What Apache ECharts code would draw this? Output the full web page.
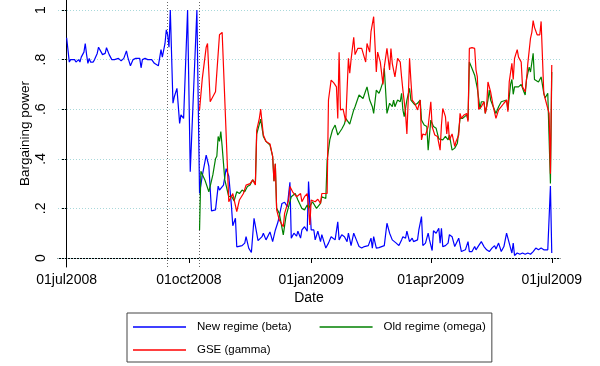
<!DOCTYPE html>
<html><head><meta charset="utf-8">
<script src="https://cdn.jsdelivr.net/npm/echarts@6/dist/echarts.min.js"></script>
<style>html,body{margin:0;padding:0;background:#fff}#c{width:600px;height:366px}</style>
</head><body><div id="c"></div>
<script>
// x values are days since 01jul2008
const xTickDays = [0, 92, 184, 274, 365];
const xTickLabels = ['01jul2008', '01oct2008', '01jan2009', '01apr2009', '01jul2009'];
const yTickValues = [0, 0.2, 0.4, 0.6, 0.8, 1];
const yTickLabels = ['0', '.2', '.4', '.6', '.8', '1'];
const eventDays = [76, 100]; // 15sep2008, 09oct2008
const seriesNames = ['New regime (beta)', 'Old regime (omega)', 'GSE (gamma)'];

// [days since 01jul2008, value]
const beta = [[0,.888],[2,.79],[3,.80],[6,.80],[7,.79],[9,.80],[10,.79],[11,.81],[13,.83],[14,.865],[15,.82],[16,.785],[17,.805],[18,.79],[20,.79],[21,.80],[23,.825],[24,.85],[26,.83],[27,.82],[29,.825],[30,.848],[32,.82],[34,.80],[36,.80],[39,.805],[41,.795],[43,.805],[45,.835],[46,.81],[48,.775],[50,.80],[52,.805],[53,.80],[55,.805],[56,.767],[57,.80],[59,.805],[61,.80],[64,.80],[66,.785],[69,.775],[71,.84],[72,.81],[74,.865],[75,.92],[76,.90],[77,.85],[78,1.0],[80,.624],[81,.65],[83,.684],[85,.543],[86,.577],[88,.563],[91,1.0],[93,.348],[98,1.0],[99,1.0],[100,.26],[102,.33],[105,.415],[107,.37],[109,.19],[112,.194],[113,.187],[114,.29],[115,.274],[118,.294],[120,.36],[122,.33],[124,.21],[125,.13],[127,.16],[128,.045],[132,.05],[134,.06],[135,.086],[137,.04],[139,.022],[141,.16],[144,.07],[147,.086],[148,.1],[150,.073],[153,.105],[155,.066],[157,.112],[159,.145],[162,.22],[164,.225],[166,.207],[168,.305],[169,.08],[171,.1],[173,.088],[174,.108],[176,.08],[177,.113],[179,.126],[181,.108],[182,.308],[184,.113],[186,.113],[187,.073],[189,.108],[191,.066],[192,.094],[195,.04],[197,.06],[199,.086],[202,.073],[204,.146],[205,.073],[207,.094],[209,.086],[211,.066],[212,.1],[214,.05],[216,.1],[218,.073],[220,.046],[222,.04],[224,.046],[227,.05],[229,.08],[230,.04],[231,.086],[233,.04],[235,.042],[237,.046],[239,.05],[241,.14],[243,.1],[245,.073],[246,.08],[248,.06],[250,.05],[252,.073],[253,.086],[255,.08],[256,.108],[258,.066],[260,.08],[261,.066],[264,.073],[265,.113],[267,.167],[268,.05],[270,.06],[272,.1],[273,.073],[275,.03],[276,.11],[278,.1],[280,.12],[281,.06],[282,.12],[283,.046],[285,.05],[287,.06],[288,.094],[290,.086],[292,.046],[293,.04],[295,.08],[297,.026],[300,.033],[302,.066],[303,.026],[305,.026],[307,.046],[308,.033],[310,.05],[312,.066],[314,.046],[316,.033],[318,.026],[320,.04],[322,.05],[323,.036],[325,.06],[327,.026],[329,.046],[331,.1],[334,.04],[335,.02],[336,.06],[337,.01],[339,.02],[341,.015],[343,.02],[345,.015],[347,.02],[349,.015],[351,.026],[353,.04],[355,.033],[357,.04],[359,.033],[360,.04],[362,.033],[364,.29],[365,.02]];

const omega = [[100,.113],[101,.35],[104,.315],[107,.267],[110,.335],[112,.40],[113,.41],[114,.49],[115,.47],[116,.51],[117,.45],[119,.315],[122,.247],[124,.25],[126,.23],[128,.267],[130,.26],[132,.274],[134,.267],[136,.288],[138,.294],[140,.315],[142,.30],[143,.50],[145,.54],[146,.56],[148,.49],[150,.47],[153,.455],[155,.41],[156,.31],[157,.38],[158,.20],[160,.18],[163,.093],[165,.167],[169,.247],[172,.26],[174,.234],[177,.2],[179,.194],[181,.214],[182,.2],[185,.227],[188,.2],[191,.22],[192,.247],[195,.24],[196,.395],[198,.476],[200,.516],[202,.536],[203,.54],[204,.496],[207,.52],[209,.54],[210,.563],[213,.54],[216,.597],[217,.61],[218,.613],[220,.657],[223,.643],[226,.69],[228,.637],[230,.61],[231,.583],[233,.677],[235,.664],[236,.677],[238,.71],[239,.765],[241,.583],[243,.624],[245,.61],[246,.637],[247,.61],[249,.637],[251,.63],[252,.664],[253,.597],[254,.57],[256,.637],[258,.684],[259,.637],[262,.617],[264,.624],[266,.637],[267,.556],[269,.536],[271,.53],[272,.435],[274,.556],[276,.53],[278,.523],[280,.48],[283,.476],[285,.49],[287,.476],[288,.496],[290,.435],[292,.443],[294,.463],[296,.563],[298,.563],[301,.577],[302,.556],[303,.79],[305,.764],[307,.737],[309,.684],[311,.60],[312,.63],[314,.63],[315,.583],[317,.637],[318,.677],[319,.637],[321,.61],[323,.583],[325,.61],[327,.63],[331,.637],[332,.597],[334,.70],[335,.72],[336,.66],[337,.69],[340,.69],[342,.70],[344,.67],[345,.657],[346,.72],[348,.77],[349,.75],[351,.825],[352,.72],[355,.71],[357,.73],[359,.665],[360,.645],[362,.664],[364,.30],[365,.75]];

const gamma = [[100,.597],[102,.72],[105,.85],[106,.865],[108,.63],[110,.65],[112,.67],[113,.677],[115,.90],[117,.91],[118,.906],[122,.227],[125,.26],[128,.187],[130,.234],[133,.26],[135,.294],[138,.30],[140,.315],[142,.294],[143,.516],[145,.563],[146,.60],[148,.496],[150,.47],[153,.46],[155,.41],[156,.31],[157,.38],[158,.194],[160,.153],[163,.126],[164,.18],[167,.234],[168,.288],[170,.267],[173,.247],[176,.26],[177,.227],[179,.247],[181,.26],[182,.207],[183,.133],[184,.234],[187,.227],[189,.237],[191,.22],[192,.26],[194,.26],[196,.26],[197,.637],[199,.717],[201,.706],[203,.69],[204,.563],[205,.83],[206,.597],[208,.60],[210,.55],[212,.805],[213,.745],[214,.80],[216,.89],[217,.82],[219,.845],[222,.845],[223,.84],[225,.79],[226,.865],[228,.83],[229,.913],[231,.973],[233,.75],[234,.83],[236,.79],[238,.70],[239,.77],[241,.845],[243,.758],[244,.845],[245,.785],[247,.73],[249,.805],[251,.79],[252,.73],[253,.677],[255,.583],[256,.50],[257,.637],[258,.805],[259,.717],[260,.637],[262,.623],[264,.597],[266,.637],[267,.476],[268,.50],[270,.496],[272,.53],[274,.63],[275,.53],[277,.496],[279,.49],[281,.435],[282,.536],[283,.603],[285,.57],[286,.50],[287,.55],[288,.476],[290,.50],[291,.50],[292,.45],[293,.47],[295,.496],[296,.583],[297,.563],[299,.577],[301,.583],[302,.55],[303,.845],[305,.848],[307,.845],[308,.758],[309,.73],[310,.60],[312,.61],[314,.63],[315,.583],[316,.61],[317,.71],[319,.67],[321,.61],[323,.563],[325,.597],[327,.61],[329,.624],[331,.637],[332,.59],[333,.71],[335,.785],[336,.72],[337,.805],[339,.84],[340,.81],[342,.79],[343,.69],[345,.67],[346,.72],[347,.785],[349,.886],[350,.91],[351,.957],[352,.93],[354,.9],[356,.9],[357,.954],[359,.664],[361,.623],[363,.583],[364,.34],[365,.778]];

const FONT = '"Liberation Sans", Arial, sans-serif';
const legendText = {fontSize: 11.5, lineHeight: 14, color: '#000', fontFamily: FONT, padding: [0, 0, 0, 6]};

const chart = echarts.init(document.getElementById('c'), null, {renderer: 'canvas'});
chart.setOption({
  animation: false,
  backgroundColor: '#fff',
  grid: {left: 58, right: 40, top: 0, bottom: 99},
  xAxis: {
    type: 'value',
    min: -6.5, max: 371.2,
    axisLine: {show: true, lineStyle: {color: '#000', width: 1}},
    axisTick: {show: true, customValues: xTickDays, length: 5, lineStyle: {color: '#000'}},
    axisLabel: {
      customValues: xTickDays, margin: 6, fontSize: 14, color: '#000', fontFamily: FONT,
      formatter: v => { const i = xTickDays.findIndex(t => Math.abs(t - v) < 0.5); return i >= 0 ? xTickLabels[i] : ''; }
    },
    splitLine: {show: false},
    name: 'Date', nameLocation: 'middle', nameGap: 24, nameMoveOverlap: false,
    nameTextStyle: {fontSize: 14, color: '#000', fontFamily: FONT}
  },
  yAxis: {
    type: 'value', min: -0.0363, max: 1.0403,
    axisLine: {show: true, lineStyle: {color: '#000', width: 1}},
    axisTick: {show: true, customValues: yTickValues, length: 5, lineStyle: {color: '#000'}},
    axisLabel: {
      customValues: yTickValues, rotate: 90, margin: 10, fontSize: 14, color: '#000', fontFamily: FONT,
      formatter: v => { const i = yTickValues.findIndex(t => Math.abs(t - v) < 1e-6); return i >= 0 ? yTickLabels[i] : ''; }
    },
    splitLine: {show: false},
    name: 'Bargaining power', nameLocation: 'middle', nameGap: 26, nameMoveOverlap: false,
    nameTextStyle: {fontSize: 13.5, color: '#000', fontFamily: FONT}
  },
  legend: [
    {
      left: 127, top: 313,
      orient: 'horizontal',
      padding: [7, 6, 28, 6],
      itemGap: 28, itemWidth: 53, itemHeight: 1.5, icon: 'rect',
      borderColor: '#444', borderWidth: 1, backgroundColor: '#fff',
      textStyle: legendText,
      data: [seriesNames[0], seriesNames[1]]
    },
    {
      left: 127, top: 343,
      orient: 'horizontal',
      padding: [0, 0, 0, 6],
      itemGap: 28, itemWidth: 53, itemHeight: 1.5, icon: 'rect',
      textStyle: legendText,
      data: [seriesNames[2]]
    }
  ],
  series: [
    {
      name: seriesNames[0], type: 'line', data: beta, symbol: 'none', showSymbol: false,
      color: '#0000ff', lineStyle: {width: 1.2, color: '#0000ff'},
      markLine: {
        silent: true, symbol: ['none', 'none'], label: {show: false}, z: 1,
        data: [
          ...yTickValues.map(v => ({yAxis: v, lineStyle: {color: '#a9d9db', type: [1, 2], width: 1}})),
          ...eventDays.map(d => ({xAxis: d, lineStyle: {color: '#666', type: [1, 2], width: 1}}))
        ]
      }
    },
    {
      name: seriesNames[1], type: 'line', data: omega, symbol: 'none', showSymbol: false,
      color: '#008000', lineStyle: {width: 1.2, color: '#008000'}
    },
    {
      name: seriesNames[2], type: 'line', data: gamma, symbol: 'none', showSymbol: false,
      color: '#ff0000', lineStyle: {width: 1.2, color: '#ff0000'}
    }
  ]
});
</script></body></html>
